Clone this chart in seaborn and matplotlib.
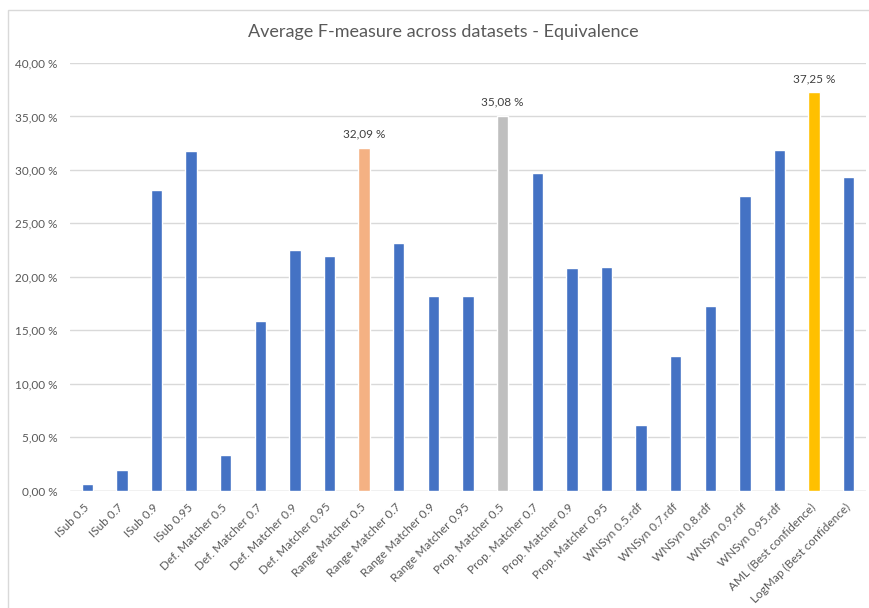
import matplotlib
matplotlib.use("Agg")
import matplotlib.pyplot as plt
import seaborn as sns
import pandas as pd
from matplotlib.patches import Rectangle
from matplotlib.ticker import FuncFormatter, MultipleLocator
from matplotlib.transforms import ScaledTranslation

categories = [
    "ISub 0.5", "ISub 0.7", "ISub 0.9", "ISub 0.95",
    "Def. Matcher 0.5", "Def. Matcher 0.7", "Def. Matcher 0.9", "Def. Matcher 0.95",
    "Range Matcher 0.5", "Range Matcher 0.7", "Range Matcher 0.9", "Range Matcher 0.95",
    "Prop. Matcher 0.5", "Prop. Matcher 0.7", "Prop. Matcher 0.9", "Prop. Matcher 0.95",
    "WNSyn 0.5.rdf", "WNSyn 0.7.rdf", "WNSyn 0.8.rdf", "WNSyn 0.9.rdf", "WNSyn 0.95.rdf",
    "AML (Best confidence)", "LogMap (Best confidence)",
]
values = [
    0.60, 1.94, 28.10, 31.75,
    3.30, 15.90, 22.49, 21.96,
    32.09, 23.14, 18.18, 18.18,
    35.08, 29.72, 20.86, 20.88,
    6.10, 12.57, 17.25, 27.60, 31.87,
    37.25, 29.32,
]
labelled = ["Range Matcher 0.5", "Prop. Matcher 0.5", "AML (Best confidence)"]

BLUE = "#4472C4"
highlight_colors = {
    "Range Matcher 0.5": "#F4B183",
    "Prop. Matcher 0.5": "#BFBFBF",
    "AML (Best confidence)": "#FFC000",
}
palette = [highlight_colors.get(c, BLUE) for c in categories]

df = pd.DataFrame({"method": categories, "fmeasure": values})

sns.set_theme(style="white")
plt.rcParams["font.family"] = ["Lato", "DejaVu Sans"]

W, H = 869, 608
fig = plt.figure(figsize=(W / 100, H / 100), dpi=100)
ax = fig.add_axes([70 / W, 1 - 490.7 / H, (866 - 70) / W, (490.7 - 63) / H])

# chart-area border
fig.patches.append(Rectangle((8 / W, -0.1), 1.2, 1.1 - 10 / H, transform=fig.transFigure,
                             fill=False, edgecolor="#D9D9D9", linewidth=1.0, zorder=0))

sns.barplot(data=df, x="method", y="fmeasure", hue="method", palette=palette,
            width=0.33, legend=False, ax=ax, saturation=1, zorder=3)

ax.set_ylim(0, 40)
ax.set_xlim(-0.5, len(categories) - 0.5)
ax.yaxis.set_major_locator(MultipleLocator(5))
ax.yaxis.set_major_formatter(FuncFormatter(lambda v, p: f"{v:.2f}".replace(".", ",") + " %"))
ax.grid(axis="y", color="#D9D9D9", linewidth=1.0, zorder=0)
ax.set_axisbelow(True)
for s in ax.spines.values():
    s.set_visible(False)
ax.axhline(0, color="#D9D9D9", linewidth=1.0, zorder=2)

ax.set_xlabel("")
ax.set_ylabel("")
ax.tick_params(axis="y", length=0, pad=9, labelsize=8.5, labelcolor="#595959")
ax.tick_params(axis="x", length=0, pad=2, labelsize=8.5, labelcolor="#595959")
ax.set_xticks(range(len(categories)))
ax.set_xticklabels(categories, rotation=45, ha="right", va="top", rotation_mode="anchor")
offset = ScaledTranslation(-4 / 100, -8 / 100, fig.dpi_scale_trans)
for lab in ax.get_xticklabels():
    lab.set_transform(lab.get_transform() + offset)

for i, (c, v) in enumerate(zip(categories, values)):
    if c in labelled:
        ax.annotate(f"{v:.2f}".replace(".", ",") + " %", (i, v), xytext=(0, 6),
                    textcoords="offset points", ha="center", va="bottom",
                    fontsize=8.5, color="#404040")

fig.text(443 / W, 1 - 32 / H, "Average F-measure across datasets - Equivalence",
         ha="center", va="center", fontsize=13, color="#595959")

fig.savefig("out.png", dpi=100, facecolor="white")
